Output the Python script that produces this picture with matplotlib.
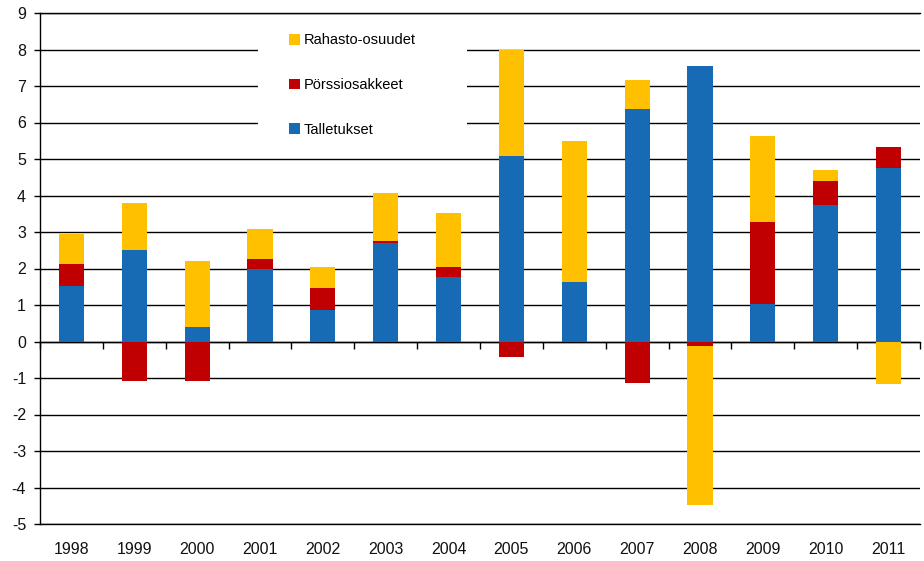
import numpy as np
import matplotlib.pyplot as plt
from matplotlib.patches import Rectangle

plt.rcParams['font.family'] = ['Liberation Sans', 'DejaVu Sans']
plt.rcParams['axes.unicode_minus'] = False

years = ['1998', '1999', '2000', '2001', '2002', '2003', '2004',
         '2005', '2006', '2007', '2008', '2009', '2010', '2011']

# Talletukset, Pörssiosakkeet, Rahasto-osuudet
talletukset = [1.51, 2.52, 0.41, 1.99, 0.85, 2.69, 1.78,
               5.07, 1.64, 6.38, 7.56, 1.02, 3.74, 4.76]
porssi = [0.62, -1.07, -1.07, 0.27, 0.62, 0.05, 0.26,
          -0.42, 0.0, -1.13, -0.11, 2.25, 0.67, 0.58]
rahasto = [0.82, 1.28, 1.80, 0.83, 0.57, 1.32, 1.49,
           2.91, 3.86, 0.79, -4.36, 2.37, 0.29, -1.17]

series = [('Talletukset', talletukset, '#176AB4'),
          ('Pörssiosakkeet', porssi, '#C00000'),
          ('Rahasto-osuudet', rahasto, '#FFC000')]

fig = plt.figure(figsize=(9.24, 5.61), dpi=100)
ax = fig.add_axes([40/924, 37/561, 880/924, 511/561])

x = np.arange(len(years))
pos_base = np.zeros(len(years))
neg_base = np.zeros(len(years))
handles = {}
for name, vals, col in series:
    v = np.array(vals)
    bottom = np.where(v >= 0, pos_base, neg_base)
    handles[name] = ax.bar(x, v, 0.4, bottom=bottom, color=col, zorder=3)
    pos_base = pos_base + np.where(v >= 0, v, 0)
    neg_base = neg_base + np.where(v < 0, v, 0)

ax.set_xlim(-0.5, len(years) - 0.5)
ax.set_ylim(-5, 9)
ax.set_yticks(range(-5, 10))
ax.yaxis.grid(True, color='black', linewidth=1.0)
ax.set_axisbelow(True)

ax.spines['right'].set_visible(False)
for s in ['top', 'bottom', 'left']:
    ax.spines[s].set_linewidth(1.0)
    ax.spines[s].set_color('black')

ax.set_xticks(x)
ax.set_xticklabels(years)
ax.tick_params(axis='x', length=0, pad=13, labelsize=11.5, colors='#111111')
ax.tick_params(axis='y', length=4, width=1, pad=6, labelsize=11.5, colors='#111111')
ax.tick_params(axis='y', color='black')

# zero line with category separators
sec = ax.secondary_xaxis(5/14)
sec.set_xticks(np.arange(-0.5, len(years), 1.0))
sec.tick_params(axis='x', direction='out', length=5, width=1, labelbottom=False,
                color='black')
sec.spines['bottom'].set_linewidth(1.0)

# white box behind the legend
ax.add_patch(Rectangle((0.248, 0.735), 0.237, 0.25, transform=ax.transAxes,
                       facecolor='white', edgecolor='none', zorder=2))

order = ['Rahasto-osuudet', 'Pörssiosakkeet', 'Talletukset']
leg = ax.legend([handles[n] for n in order], order, loc='upper left',
                bbox_to_anchor=(0.283, 0.960), frameon=False, fontsize=10.5,
                handlelength=0.75, handleheight=0.75, handletextpad=0.25,
                labelspacing=2.1, borderpad=0, borderaxespad=0)
leg.set_zorder(5)

fig.savefig('out.png', dpi=100)
